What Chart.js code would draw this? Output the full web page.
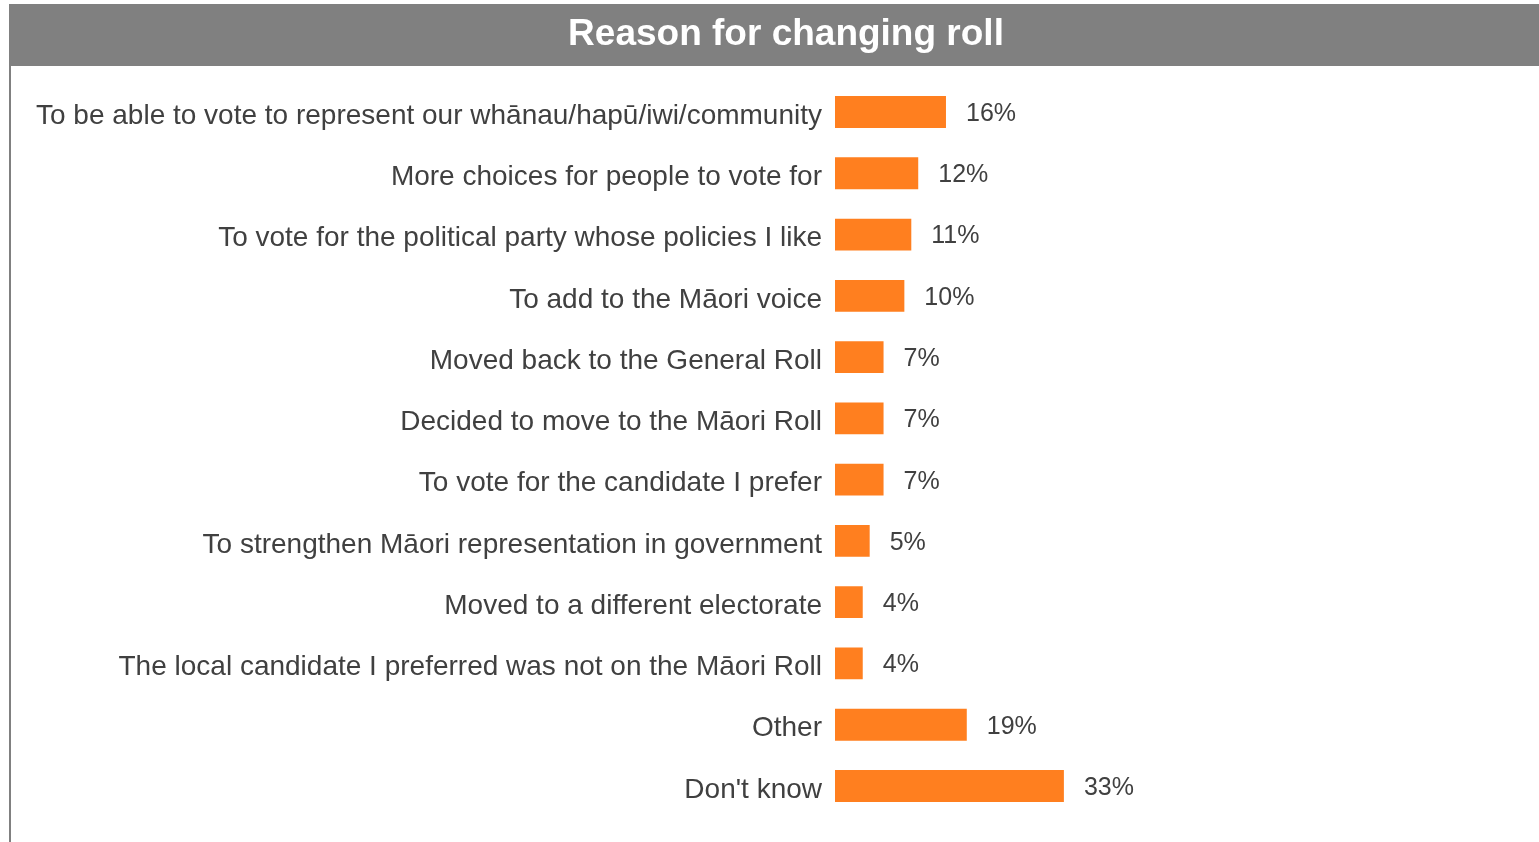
<!DOCTYPE html>
<html>
<head>
<meta charset="utf-8">
<title>Reason for changing roll</title>
<script src="https://cdn.jsdelivr.net/npm/chart.js@4"></script>
<style>
  html, body { margin: 0; padding: 0; background: #ffffff; overflow: hidden; }
  #wrap { position: relative; width: 1539px; height: 842px; }
</style>
</head>
<body>
<div id="wrap"><canvas id="chart"></canvas></div>
<script>
// Survey responses: reasons given for changing electoral roll
const categories = [
  "To be able to vote to represent our whānau/hapū/iwi/community",
  "More choices for people to vote for",
  "To vote for the political party whose policies I like",
  "To add to the Māori voice",
  "Moved back to the General Roll",
  "Decided to move to the Māori Roll",
  "To vote for the candidate I prefer",
  "To strengthen Māori representation in government",
  "Moved to a different electorate",
  "The local candidate I preferred was not on the Māori Roll",
  "Other",
  "Don't know"
];
const percentages = [16, 12, 11, 10, 7, 7, 7, 5, 4, 4, 19, 33];
const chartTitle = "Reason for changing roll";

const TEXT = "#404040";
const BAR = "#FF7F1F";
const BAND = "#808080";
const FONT = "'Liberation Sans', Arial, sans-serif";

// Grey header band behind the title, plus the thin rule down the left edge
const headerBand = {
  id: "headerBand",
  beforeDraw(chart) {
    const ctx = chart.ctx;
    ctx.save();
    ctx.fillStyle = BAND;
    ctx.fillRect(9, 4, chart.width - 9, 62);
    ctx.fillRect(9, 66, 2, chart.height - 66);
    ctx.restore();
  }
};

// Percentage labels to the right of each bar
const valueLabels = {
  id: "valueLabels",
  afterDatasetsDraw(chart) {
    const ctx = chart.ctx;
    const meta = chart.getDatasetMeta(0);
    ctx.save();
    ctx.fillStyle = TEXT;
    ctx.font = "25px " + FONT;
    ctx.textAlign = "left";
    ctx.textBaseline = "middle";
    meta.data.forEach((bar, i) => {
      ctx.fillText(percentages[i] + "%", bar.x + 20, bar.y + 2);
    });
    ctx.restore();
  }
};

new Chart(document.getElementById("chart"), {
  type: "bar",
  data: {
    labels: categories,
    datasets: [{
      data: percentages,
      backgroundColor: BAR,
      borderWidth: 0,
      barPercentage: 0.52,
      categoryPercentage: 1.0
    }]
  },
  options: {
    indexAxis: "y",
    responsive: true,
    maintainAspectRatio: false,
    animation: false,
    layout: { padding: { left: 33, right: 0, top: 4, bottom: 25.4 } },
    plugins: {
      legend: { display: false },
      tooltip: { enabled: false },
      title: {
        display: true,
        text: chartTitle,
        color: "#ffffff",
        font: { family: FONT, size: 37, weight: "bold", lineHeight: 1.2 },
        padding: { top: 8.8, bottom: 24.2 }
      }
    },
    scales: {
      x: {
        display: false,
        min: 0,
        max: 101.5
      },
      y: {
        grid: { display: false, drawTicks: false, tickLength: 0 },
        border: { display: false },
        ticks: {
          color: TEXT,
          padding: 13,
          labelOffset: 4,
          autoSkip: false,
          font: { family: FONT, size: 28 }
        },
        afterFit(scale) {
          scale.width = 802;
          scale.paddingTop = 0;
          scale.paddingBottom = 0;
        }
      }
    }
  },
  plugins: [headerBand, valueLabels]
});
</script>
</body>
</html>
